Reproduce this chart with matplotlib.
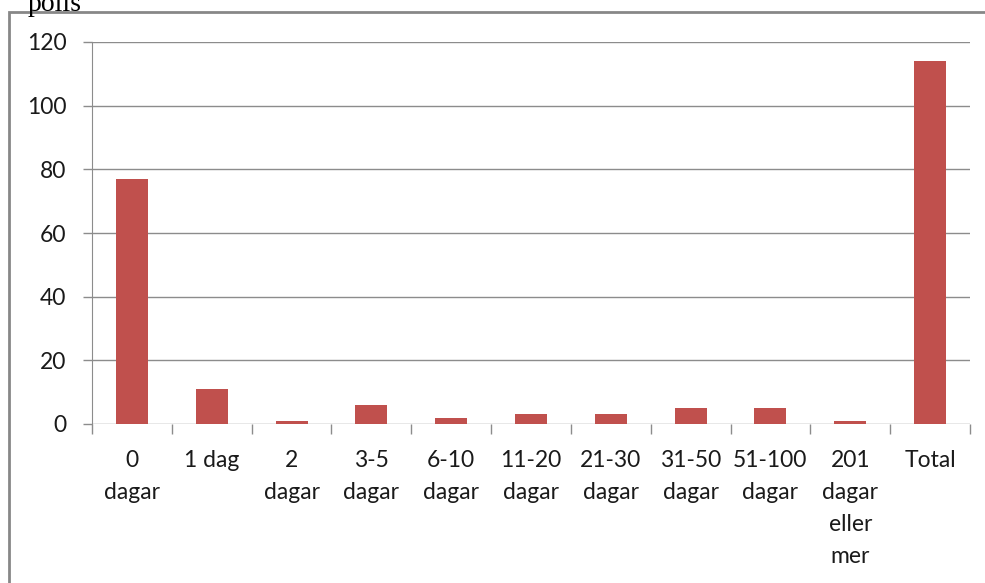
import matplotlib.pyplot as plt
from matplotlib.patches import Rectangle
import numpy as np

categories = ['0\ndagar', '1 dag', '2\ndagar', '3-5\ndagar', '6-10\ndagar',
              '11-20\ndagar', '21-30\ndagar', '31-50\ndagar', '51-100\ndagar',
              '201\ndagar\neller\nmer', 'Total']
values = [77, 11, 1, 6, 2, 3, 3, 5, 5, 1, 114]

plt.rcParams['font.family'] = ['Lato', 'DejaVu Sans']

fig = plt.figure(figsize=(9.85, 5.83), dpi=100)
W, H = 985, 583

# outer chart border (cut off at right/bottom like the source screenshot)
fig.patches.append(Rectangle((9 / W, -0.1), 1.2, 1 - 12 / H + 0.1, transform=fig.transFigure,
                             fill=False, edgecolor='#878787', linewidth=2))
fig.text(28 / W, 1 + 8 / H, 'polis', family='Liberation Serif', fontsize=20,
         va='top', ha='left', color='black')

ax = fig.add_axes([92 / W, 1 - 424 / H, (970 - 92) / W, (424 - 42) / H])
x = np.arange(len(categories))
ax.bar(x, values, width=0.4, color='#C0504D', zorder=3)

ax.set_xlim(-0.5, len(categories) - 0.5)
ax.set_ylim(0, 120)
ax.set_yticks(range(0, 121, 20))
ax.yaxis.grid(True, color='#8c8c8c', linewidth=1)
ax.set_axisbelow(True)

ax.set_xticks(np.arange(-0.5, len(categories), 1))
ax.set_xticklabels([])
ax.set_xticks(x, minor=True)
ax.set_xticklabels(categories, minor=True, fontsize=16.5, linespacing=1.63, va='top',
                   color='#1a1a1a')
ax.tick_params(axis='x', which='minor', length=0, pad=19)
ax.tick_params(axis='x', which='major', length=7, color='#8c8c8c', width=1)
ax.tick_params(axis='y', length=6.5, color='#8c8c8c', width=1, labelsize=16.5, pad=12,
               labelcolor='#1a1a1a')

for s in ['top', 'right', 'bottom']:
    ax.spines[s].set_visible(False)
ax.spines['left'].set_color('#8c8c8c')

fig.savefig('out.png', dpi=100)
